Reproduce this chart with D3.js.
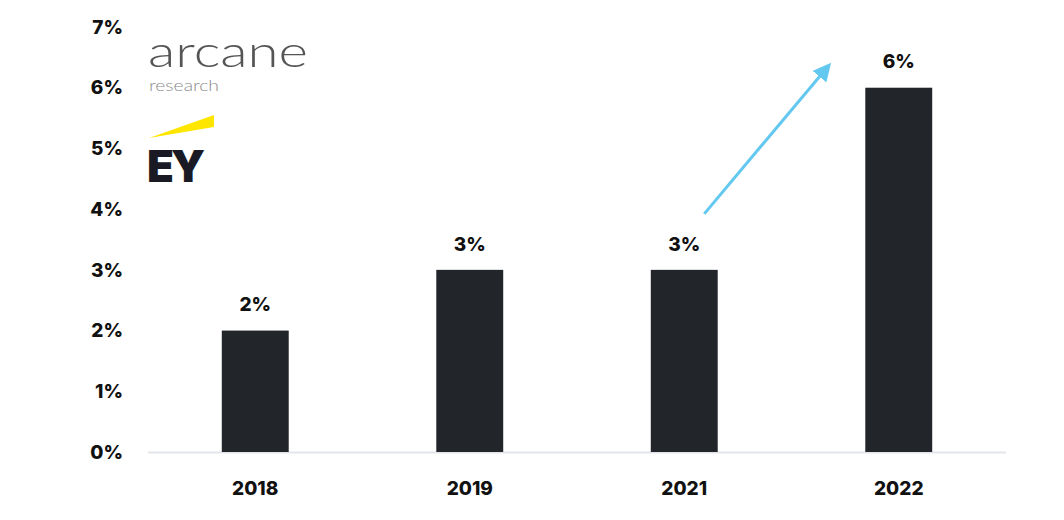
<!DOCTYPE html>
<html><head><meta charset="utf-8">
<script src="https://cdn.jsdelivr.net/npm/d3@7"></script>
<style>body{margin:0;background:#fff}svg{display:block}</style>
</head><body>
<svg id="c" width="1064" height="520"></svg>
<script>
const categories = ["2018", "2019", "2021", "2022"];
const values = [2, 3, 3, 6];
const valueLabels = ["2%", "3%", "3%", "6%"];
const yTicks = [0, 1, 2, 3, 4, 5, 6, 7];

const svg = d3.select("#c");
const font = "Inter, 'DejaVu Sans', sans-serif";
const x = d3.scaleBand().domain(categories).range([148, 1006]).paddingInner(0.688).paddingOuter(0.344);
const y = d3.scaleLinear().domain([0, 7]).range([452, 27]);

// y labels
svg.append("g").selectAll("text").data(yTicks).join("text")
  .attr("x", 123).attr("y", d => y(d)).attr("dy", "0.35em")
  .attr("text-anchor", "end").attr("font-family", font).attr("font-weight", 800)
  .attr("font-size", 19).attr("fill", "#111").text(d => d + "%");

// baseline
svg.append("line").attr("x1", 148).attr("x2", 1006).attr("y1", y(0) + 0.5).attr("y2", y(0) + 0.5)
  .attr("stroke", "#e2e5ea").attr("stroke-width", 2);

// bars
svg.append("g").selectAll("rect").data(values).join("rect")
  .attr("x", (d, i) => x(categories[i])).attr("width", x.bandwidth())
  .attr("y", d => y(d)).attr("height", d => y(0) - y(d)).attr("fill", "#222529");

// value labels
svg.append("g").selectAll("text").data(values).join("text")
  .attr("x", (d, i) => x(categories[i]) + x.bandwidth() / 2).attr("y", d => y(d) - 26)
  .attr("dy", "0.35em").attr("text-anchor", "middle").attr("font-family", font)
  .attr("font-weight", 800).attr("font-size", 19).attr("fill", "#111")
  .text((d, i) => valueLabels[i]);

// x labels
svg.append("g").selectAll("text").data(categories).join("text")
  .attr("x", d => x(d) + x.bandwidth() / 2).attr("y", 488).attr("dy", "0.35em")
  .attr("text-anchor", "middle").attr("font-family", font).attr("font-weight", 800)
  .attr("font-size", 19).attr("fill", "#111").text(d => d);

// arrow from 2021 to 2022
const defs = svg.append("defs");
defs.append("marker").attr("id", "ah").attr("viewBox", "0 0 10 10").attr("refX", 5).attr("refY", 5)
  .attr("markerWidth", 6).attr("markerHeight", 6).attr("orient", "auto")
  .append("path").attr("d", "M0,0 L10,5 L0,10 z").attr("fill", "#63c8f0");
const xa = x("2021") + x.bandwidth() / 2 + 20, ya = y(3) - 56;
const xb = x("2022") - 35, yb = y(6) - 24;
svg.append("line").attr("x1", xa).attr("y1", ya).attr("x2", xb - 5).attr("y2", yb + 6)
  .attr("stroke", "#63c8f0").attr("stroke-width", 3).attr("marker-end", "url(#ah)");

// logos
svg.append("text").attr("x", 148).attr("y", 67).attr("font-family", "Lato, 'Open Sans', sans-serif")
  .attr("font-weight", 300).attr("font-size", 44).attr("fill", "#555")
  .attr("textLength", 160).attr("lengthAdjust", "spacingAndGlyphs").text("arcane");
svg.append("text").attr("x", 149).attr("y", 91).attr("font-family", "Lato, 'Open Sans', sans-serif")
  .attr("font-weight", 300).attr("font-size", 16).attr("fill", "#8a8a8a")
  .attr("textLength", 70).attr("lengthAdjust", "spacingAndGlyphs").text("research");
svg.append("path").attr("d", "M149,138 L214,115 L214,127 Z").attr("fill", "#ffe600");
svg.append("text").attr("x", 147).attr("y", 182).attr("font-family", "Inter, sans-serif")
  .attr("font-weight", 900).attr("font-size", 44).attr("fill", "#1a1a24").attr("letter-spacing", -3).text("EY");
</script>
</body></html>
